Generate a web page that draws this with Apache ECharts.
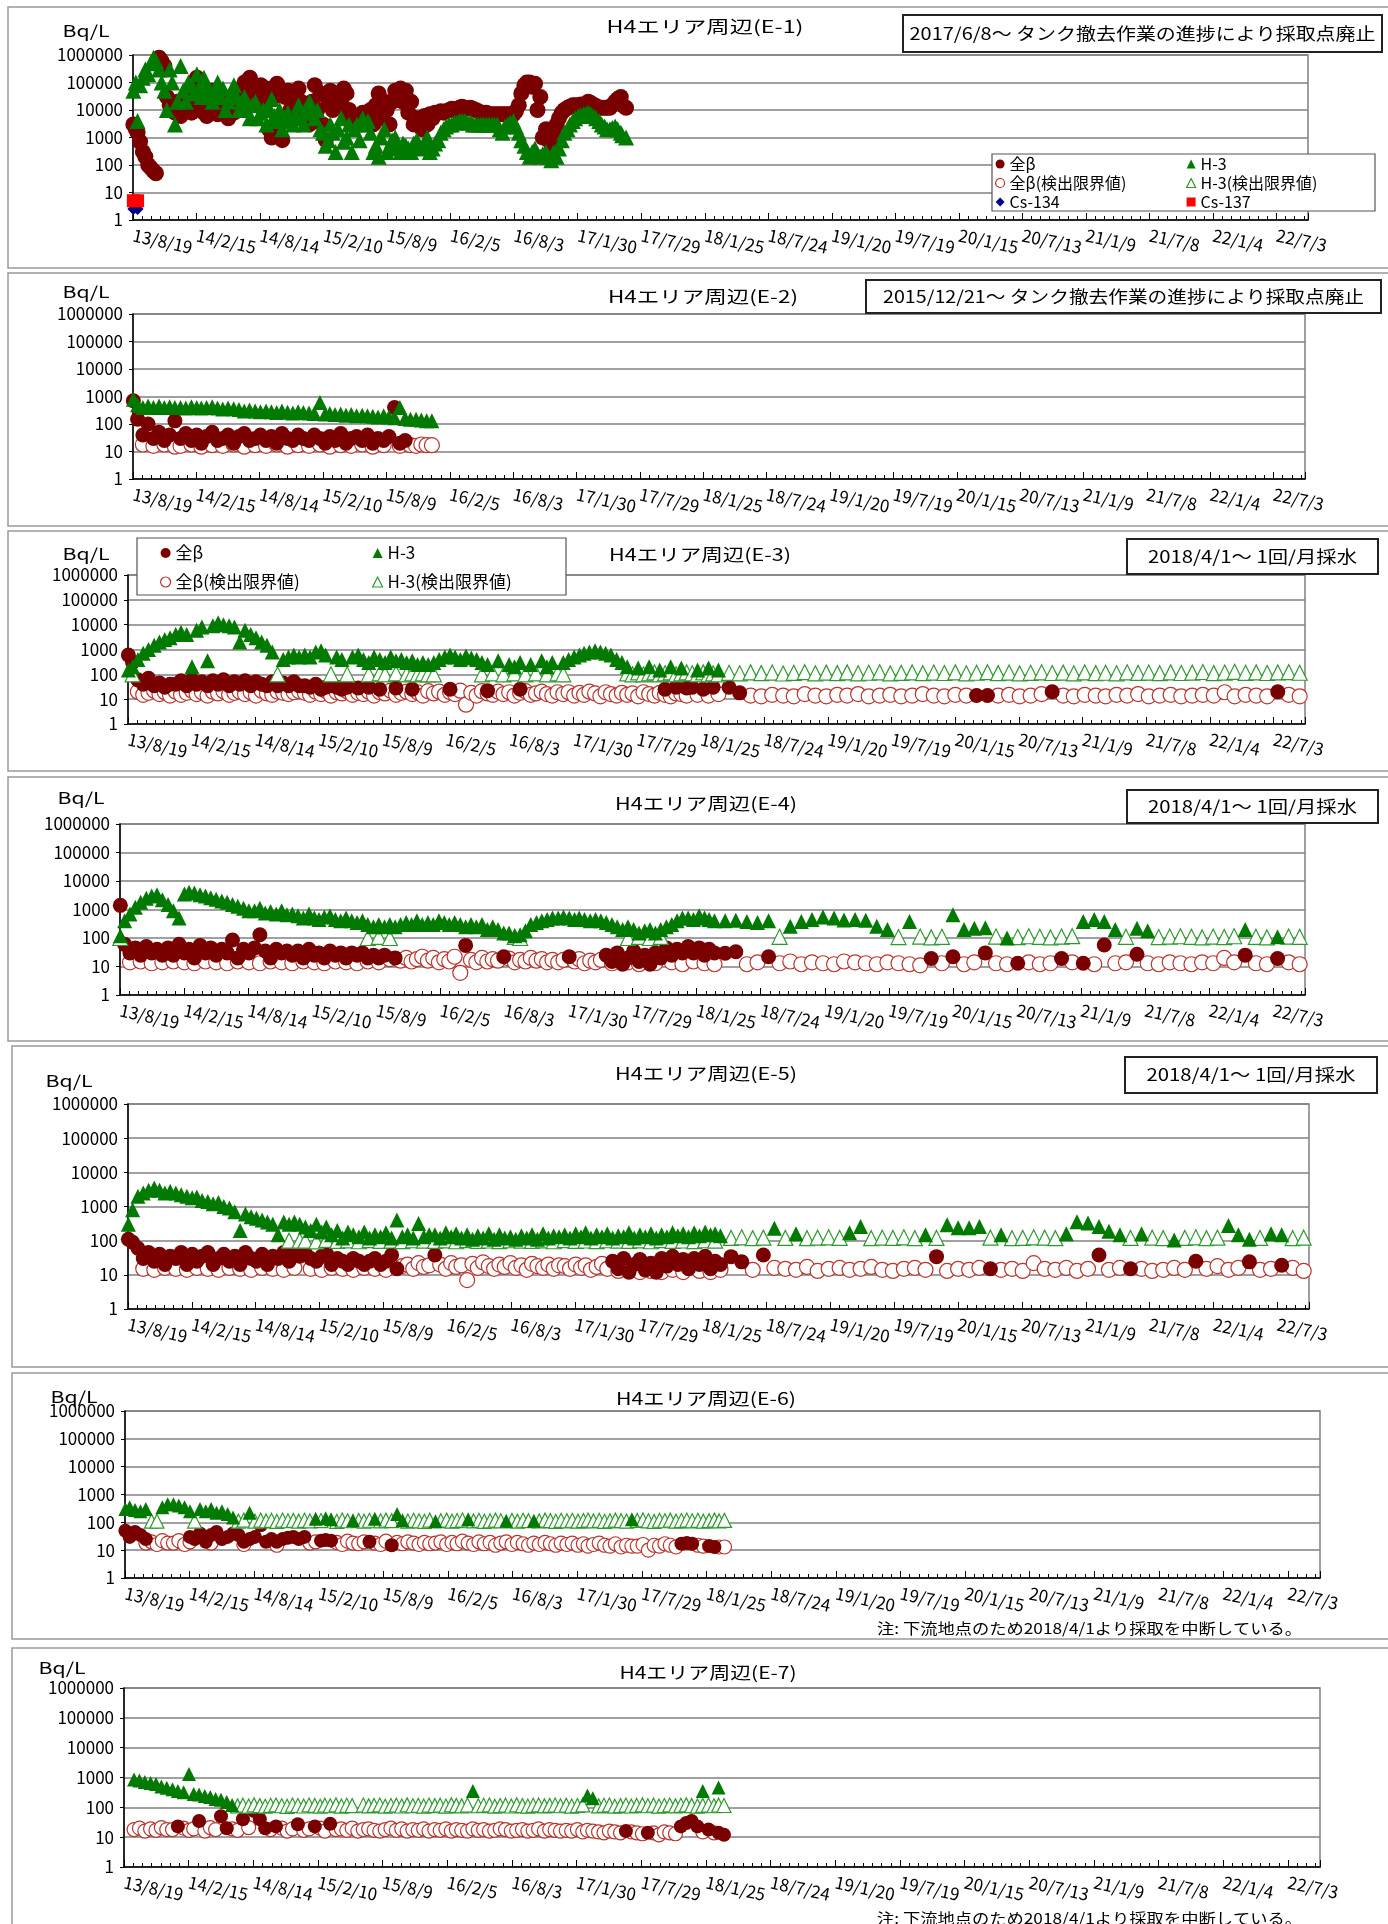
<!DOCTYPE html>
<html lang="ja">
<head>
<meta charset="utf-8">
<title>H4エリア周辺</title>
<script src="https://cdn.jsdelivr.net/npm/echarts@6.0.0/dist/echarts.min.js"></script>
<style>
html,body{margin:0;padding:0;background:#fff;}
#chart{width:1388px;height:1924px;}
</style>
</head>
<body>
<div id="chart"></div>
<script>
// ---------------- sample dates ----------------
const SEMI_MONTHLY_DATES = [
'13/08/20','13/09/01','13/09/16','13/10/01','13/10/16','13/11/01','13/11/16','13/12/01','13/12/16',
'14/01/01','14/01/16','14/02/01','14/02/16','14/03/01','14/03/16','14/04/01','14/04/16','14/05/01','14/05/16','14/06/01','14/06/16','14/07/01','14/07/16','14/08/01','14/08/16','14/09/01','14/09/16','14/10/01','14/10/16','14/11/01','14/11/16','14/12/01','14/12/16',
'15/01/01','15/01/16','15/02/01','15/02/16','15/03/01','15/03/16','15/04/01','15/04/16','15/05/01','15/05/16','15/06/01','15/06/16','15/07/01','15/07/16','15/08/01','15/08/16','15/09/01','15/09/16','15/10/01','15/10/16','15/11/01','15/11/16','15/12/01','15/12/16',
'16/01/01','16/01/16','16/02/01','16/02/16','16/03/01','16/03/16','16/04/01','16/04/16','16/05/01','16/05/16','16/06/01','16/06/16','16/07/01','16/07/16','16/08/01','16/08/16','16/09/01','16/09/16','16/10/01','16/10/16','16/11/01','16/11/16','16/12/01','16/12/16',
'17/01/01','17/01/16','17/02/01','17/02/16','17/03/01','17/03/16','17/04/01','17/04/16','17/05/01','17/05/16','17/06/01','17/06/16','17/07/01','17/07/16','17/08/01','17/08/16','17/09/01','17/09/16','17/10/01','17/10/16','17/11/01','17/11/16','17/12/01','17/12/16',
'18/01/01','18/01/16','18/02/01','18/02/16','18/03/01','18/03/16'
];
const MONTHLY_DATES = [
'18/04/15','18/05/15','18/06/15','18/07/15','18/08/15','18/09/15','18/10/15','18/11/15','18/12/15',
'19/01/15','19/02/15','19/03/15','19/04/15','19/05/15','19/06/15','19/07/15','19/08/15','19/09/15','19/10/15','19/11/15','19/12/15',
'20/01/15','20/02/15','20/03/15','20/04/15','20/05/15','20/06/15','20/07/15','20/08/15','20/09/15','20/10/15','20/11/15','20/12/15',
'21/01/15','21/02/15','21/03/15','21/04/15','21/05/15','21/06/15','21/07/15','21/08/15','21/09/15','21/10/15','21/11/15','21/12/15',
'22/01/15','22/02/15','22/03/15','22/04/15','22/05/15','22/06/15','22/07/15','22/08/15','22/09/15'
];
// extra E-1 sampling dates (E-1 was sampled much more often)
const E1_EXTRA_DATES = [
'13/08/27','13/09/08','13/09/23','13/10/08','13/10/23','13/11/08','13/11/23','13/12/08','13/12/23',
'14/01/08','14/01/23','14/02/08','14/02/23','14/03/08','14/03/23','14/04/08','14/04/23','14/05/08','14/05/23','14/06/08','14/06/23','14/07/08','14/07/23','14/08/08','14/08/23','14/09/08','14/09/23','14/10/08','14/10/23','14/11/08','14/11/23','14/12/08','14/12/23',
'15/01/08','15/01/23','15/02/08','15/02/23','15/03/08','15/03/23','15/04/08','15/04/23','15/05/08','15/05/23','15/06/08','15/06/23','15/07/08','15/07/23','15/08/08','15/08/23','15/09/08','15/09/23','15/10/08','15/10/23','15/11/08','15/11/23','15/12/08','15/12/23',
'16/01/08','16/01/23','16/02/08','16/02/23','16/03/08','16/03/23','16/04/08','16/04/23','16/05/08','16/05/23','16/06/08','16/06/23','16/07/08','16/07/23','16/08/08','16/08/23','16/09/08','16/09/23','16/10/08','16/10/23','16/11/08','16/11/23','16/12/08','16/12/23',
'17/01/08','17/01/23','17/02/08','17/02/23','17/03/08','17/03/23','17/04/08','17/04/23','17/05/08','17/05/23','17/06/05'
];
const X_TICK_LABELS = ['13/8/19','14/2/15','14/8/14','15/2/10','15/8/9','16/2/5','16/8/3','17/1/30','17/7/29','18/1/25','18/7/24','19/1/20','19/7/19','20/1/15','20/7/13','21/1/9','21/7/8','22/1/4','22/7/3'];
const Y_TICK_LABELS = ['1','10','100','1000','10000','100000','1000000'];

// ---------------- values (Bq/L), aligned with the dates above; 0 = no point in that series ----------------
// E-1
const E1_BETA = [
/*13*/ 3000,1500,300,100,60,800000,400000,15000,8000,
/*14*/ 6000,30000,8000,150000,10000,6000,50000,7000,20000,5000,8000,30000,100000,150000,30000,80000,60000,1000,90000,800,50000,20000,60000,8000,
/*15*/ 3000,80000,40000,800,50000,30000,20000,40000,5000,3000,8000,6000,3000,40000,20000,3000,50000,60000,50000,20000,5000,2000,3000,5000,
/*16*/ 8000,8000,10000,10000,12000,12000,12000,10000,8000,8000,7000,7000,7000,7000,7000,15000,80000,100000,90000,30000,2000,600,3000,8000,
/*17*/ 12000,15000,15000,15000,20000,15000,12000,12000,12000,20000,30000,12000
];
const E1_H3 = [
/*13*/ 50000,4000,150000,200000,800000,300000,50000,300000,3000,
/*14*/ 400000,20000,80000,200000,30000,80000,20000,100000,60000,20000,80000,10000,30000,5000,20000,8000,3000,25000,4000,2000,8000,3000,15000,3000,
/*15*/ 20000,5000,2000,500,3000,300,5000,1000,300,3000,5000,4000,300,200,2000,500,1000,300,500,300,800,400,1000,400,
/*16*/ 800,2000,3000,3500,4000,4000,3500,3000,3000,3000,3000,3000,1500,3000,4000,1500,500,200,400,200,300,150,200,800,
/*17*/ 2000,4000,6000,7000,8000,6000,4000,2500,2000,2500,1500,1000
];
const E1_BETA_EXTRA = [
/*13*/ 2000,700,200,80,50,600000,30000,10000,20000,
/*14*/ 15000,12000,60000,20000,8000,20000,12000,30000,10000,15000,40000,60000,50000,40000,60000,20000,2000,30000,3000,30000,10000,40000,20000,15000,
/*15*/ 20000,10000,3000,20000,10000,15000,60000,10000,4000,5000,4000,10000,15000,5000,10000,20000,30000,20000,8000,3000,4000,6000,7000,8000,
/*16*/ 9000,9000,11000,11000,13000,11000,11000,9000,8000,7000,7000,7000,7000,7000,9000,40000,100000,70000,10000,1000,800,1500,5000,10000,
/*17*/ 13000,15000,16000,17000,18000,14000,12000,12000,15000,25000,15000
];
const E1_H3_EXTRA = [
/*13*/ 100000,80000,300000,500000,600000,100000,10000,100000,20000,
/*14*/ 50000,100000,40000,60000,150000,40000,50000,30000,10000,40000,30000,20000,10000,15000,5000,10000,12000,6000,10000,5000,4000,6000,5000,8000,
/*15*/ 8000,10000,1500,800,1500,2000,700,3000,2000,800,3000,1500,500,1000,300,800,400,600,400,600,500,700,300,600,
/*16*/ 1500,2500,3000,3500,4000,3500,3000,3000,3000,3000,3000,2000,2500,3500,2500,800,300,300,250,250,200,300,400,1500,
/*17*/ 3000,5000,6500,7500,7000,5000,3000,2000,2200,2000,1200
];
const E1_CS134 = [2.5,2.5];
const E1_CS137 = [5,5];

// E-2
const E2_BETA = [
/*13*/ 700,150,40,100,30,50,25,40,130,
/*14*/ 30,45,25,40,20,35,50,25,30,40,20,35,45,25,30,40,25,35,20,45,30,25,40,30,
/*15*/ 25,40,30,20,35,25,45,20,30,35,25,40,20,30,25,35,400,20,25,0,0,0,0,0
];
const E2_BETA_ND = [
/*13*/ 0,0,18,0,16,0,18,0,15,
/*14*/ 16,0,18,0,15,0,17,0,16,0,18,0,15,0,17,0,16,0,18,0,15,0,17,0,
/*15*/ 16,0,18,0,15,0,17,0,16,0,18,0,15,0,17,0,0,16,0,17,16,18,17,17
];
const E2_H3 = [
/*13*/ 800,500,400,450,400,450,400,420,400,
/*14*/ 400,380,420,400,380,400,420,380,350,380,360,340,300,320,300,280,300,280,260,300,270,250,280,260,
/*15*/ 250,240,600,230,240,220,230,210,220,200,210,200,190,180,200,180,170,400,160,150,150,140,130,130
];

// E-3
const E3_BETA = [
/*13*/ 600,300,60,40,70,35,45,30,40,
/*14*/ 40,55,35,60,40,50,35,55,40,60,35,50,40,55,35,50,40,35,50,35,45,35,50,35,
/*15*/ 35,30,40,25,30,35,30,25,30,0,28,0,30,0,25,0,0,28,0,0,25,0,0,0,
/*16*/ 0,0,0,25,0,0,0,0,0,0,22,0,0,0,0,0,25,0,0,0,0,0,0,0,
/*17*/ 0,0,0,0,0,0,0,0,0,0,0,0,0,0,0,0,0,0,0,25,0,30,0,28,
/*18*/ 30,0,25,0,30,0,
/*m18*/ 30,18,0,0,0,0,0,0,0,
/*m19*/ 0,0,0,0,0,0,0,0,0,0,0,0,
/*m20*/ 0,0,14,14,0,0,0,0,0,20,0,0,
/*m21*/ 0,0,0,0,0,0,0,0,0,0,0,0,
/*m22*/ 0,0,0,0,0,0,20,0,0
];
const E3_BETA_ND = [
/*13*/ 0,0,20,15,18,22,16,19,14,
/*14*/ 20,15,18,22,16,19,14,20,17,21,15,18,20,16,19,14,22,17,15,20,18,16,19,21,
/*15*/ 18,15,20,16,22,14,19,17,21,15,18,16,20,14,19,17,22,15,18,20,16,19,14,21,
/*16*/ 17,20,15,19,16,22,6,18,14,21,17,15,20,16,19,14,18,21,15,17,20,16,14,19,
/*17*/ 16,19,14,18,15,20,17,13,19,16,14,18,15,17,13,19,16,14,18,15,13,17,16,14,
/*18*/ 0,15,0,14,0,16,
/*m18*/ 0,0,14,13,15,14,13,16,14,
/*m19*/ 13,15,14,16,13,14,15,13,14,16,14,13,
/*m20*/ 15,14,0,0,14,15,13,14,16,0,14,13,
/*m21*/ 15,14,13,15,14,16,13,14,15,13,14,15,
/*m22*/ 14,19,13,15,14,13,0,15,13
];
const E3_H3 = [
/*13*/ 150,200,400,700,1000,1500,2000,2500,3000,
/*14*/ 4000,5000,4000,200,6000,8000,350,9000,12000,10000,9000,8000,2000,6000,4000,3000,2000,1500,800,0,400,500,600,500,
/*15*/ 600,500,800,900,600,0,500,400,0,500,600,400,300,500,400,300,500,350,400,300,350,250,300,250,
/*16*/ 300,400,500,600,500,400,550,450,400,300,250,0,350,0,250,200,300,0,250,0,350,200,300,0,
/*17*/ 300,400,500,600,700,800,900,800,700,600,400,300,200,0,180,0,200,0,150,0,200,0,180,0,
/*18*/ 0,150,0,180,0,150
];
const E3_H3_ND = [
/*13*/ 0,100,0,0,0,0,0,0,0,
/*14*/ 0,0,0,0,0,0,0,0,0,0,0,0,0,0,0,0,0,0,0,100,0,0,0,0,
/*15*/ 0,0,0,0,0,100,0,0,100,0,0,0,100,0,110,100,0,110,0,100,110,100,110,100,
/*16*/ 100,0,0,0,0,0,0,0,0,100,0,110,0,100,0,110,0,100,0,110,0,100,0,110,
/*17*/ 100,0,0,0,0,0,0,0,0,0,0,0,110,100,120,100,110,120,100,110,120,100,110,120,
/*18*/ 110,100,120,100,110,100,
/*m18*/ 115,110,120,112,118,108,115,122,110,
/*m19*/ 117,112,120,110,116,121,109,114,119,111,118,113,
/*m20*/ 120,110,116,122,112,118,109,115,121,113,117,110,
/*m21*/ 119,112,116,110,121,114,118,111,120,113,117,124,
/*m22*/ 112,118,126,115,120,113,119,122,116
];

// E-4
const E4_BETA = [
/*13*/ 1400,60,30,45,25,50,30,40,25,
/*14*/ 45,25,60,30,40,20,55,30,45,25,40,30,85,20,40,30,45,130,35,20,40,30,35,25,
/*15*/ 35,20,40,25,30,20,35,25,30,20,30,25,30,20,25,20,25,0,20,0,0,0,0,0,
/*16*/ 0,0,0,0,0,0,0,55,0,0,0,0,0,0,22,0,0,0,0,0,0,0,0,0,
/*17*/ 0,0,22,0,0,0,0,0,0,25,15,30,12,20,35,15,25,12,30,20,45,25,40,30,
/*18*/ 50,30,45,25,40,30,
/*m18*/ 29,33,0,0,22,0,0,0,0,
/*m19*/ 0,0,0,0,0,0,0,0,0,0,19,0,
/*m20*/ 22,0,0,30,0,0,13,0,0,0,19,0,
/*m21*/ 13,0,57,0,0,27,0,0,0,0,0,0,
/*m22*/ 0,0,0,25,0,0,19,0,0
];
const E4_BETA_ND = [
/*13*/ 0,0,14,0,15,0,13,0,14,
/*14*/ 0,15,0,14,0,13,0,15,0,14,0,13,0,15,0,14,0,13,0,15,0,14,0,13,
/*15*/ 0,15,0,14,0,13,0,15,0,14,0,13,0,15,0,14,0,18,0,16,20,15,18,22,
/*16*/ 16,20,14,18,15,22,6,0,17,14,20,15,18,16,0,19,14,17,15,20,16,18,14,17,
/*17*/ 14,17,0,15,18,13,16,14,17,0,13,0,0,14,0,12,0,0,13,0,0,14,0,12,
/*18*/ 0,15,0,13,0,12,
/*m18*/ 0,0,12,14,0,13,15,12,14,
/*m19*/ 13,12,15,14,13,12,14,13,12,11,0,13,
/*m20*/ 0,12,14,0,13,12,0,14,12,13,0,14,
/*m21*/ 0,12,0,13,14,0,13,12,14,13,12,14,
/*m22*/ 13,20,14,0,13,12,0,14,12
];
const E4_H3 = [
/*13*/ 120,400,700,1200,1800,2500,3000,3300,2200,
/*14*/ 1500,900,500,3500,4000,3800,3300,3000,2600,2300,2000,1800,1500,1300,1100,900,900,1100,750,850,700,900,650,700,
/*15*/ 600,500,700,500,450,550,600,450,400,500,400,350,400,300,250,300,250,300,250,300,350,300,400,300,
/*16*/ 350,300,400,350,300,350,300,250,300,250,300,200,250,200,150,150,120,130,180,300,350,400,450,500,
/*17*/ 500,550,500,450,500,450,400,450,400,350,300,250,200,250,200,150,180,200,150,200,250,300,400,500,
/*18*/ 500,450,600,500,450,400,
/*m18*/ 400,420,380,350,400,0,260,380,450,
/*m19*/ 550,500,430,450,420,260,200,0,380,0,0,0,
/*m20*/ 650,200,220,230,0,100,0,0,0,0,0,0,
/*m21*/ 380,450,380,200,0,220,180,0,0,0,0,0,
/*m22*/ 0,0,0,200,0,0,110,0,0
];
const E4_H3_ND = [
/*13*/ 100,0,0,0,0,0,0,0,0,
/*14*/ 0,0,0,0,0,0,0,0,0,0,0,0,0,0,0,0,0,0,0,0,0,0,0,0,
/*15*/ 0,0,0,0,0,0,0,0,0,0,0,0,0,100,0,110,0,100,0,0,0,0,0,0,
/*16*/ 0,0,0,0,0,0,0,0,0,0,0,0,0,0,0,0,110,100,0,0,0,0,0,0,
/*17*/ 0,0,0,0,0,0,0,0,0,0,0,0,0,100,0,110,0,100,0,110,0,0,0,0,
/*18*/ 0,0,0,0,0,0,
/*m18*/ 0,0,0,0,0,110,0,0,0,
/*m19*/ 0,0,0,0,0,0,0,108,0,112,105,110,
/*m20*/ 0,0,0,0,112,0,108,115,110,105,112,116,
/*m21*/ 0,0,0,0,110,0,0,108,112,115,110,105,
/*m22*/ 112,108,115,0,110,105,0,112,110
];

// E-5
const E5_BETA = [
/*13*/ 110,90,60,30,45,25,40,20,35,
/*14*/ 30,45,20,40,25,35,45,20,30,40,25,35,20,45,30,25,40,20,35,30,45,25,40,35,
/*15*/ 42,30,25,35,42,20,30,25,20,30,25,20,25,30,20,25,38,15,0,0,0,0,0,0,
/*16*/ 38,0,0,0,0,0,0,0,0,0,0,0,0,0,0,0,0,0,0,0,0,0,0,0,
/*17*/ 0,0,0,0,0,0,0,0,0,25,15,30,12,20,28,14,22,12,30,18,35,20,28,15,
/*18*/ 30,20,35,15,25,20,
/*m18*/ 34,24,0,38,0,0,0,0,0,
/*m19*/ 0,0,0,0,0,0,0,0,0,0,34,0,
/*m20*/ 0,0,0,15,0,0,0,0,0,0,0,0,
/*m21*/ 0,38,0,0,15,0,0,0,0,0,25,0,
/*m22*/ 0,0,0,24,0,0,19,0,0
];
const E5_BETA_ND = [
/*13*/ 0,0,0,15,0,14,0,16,0,
/*14*/ 15,0,14,0,16,0,15,0,14,0,16,0,15,0,14,0,16,0,15,0,14,0,16,0,
/*15*/ 0,15,0,14,0,16,0,15,0,14,0,16,0,15,0,14,0,0,18,20,15,22,17,19,
/*16*/ 0,20,15,22,17,19,7,21,16,23,18,15,20,17,22,16,19,14,21,18,16,20,15,19,
/*17*/ 18,15,20,16,19,14,17,21,15,0,13,0,14,0,12,0,13,0,12,0,14,0,12,0,
/*18*/ 0,13,0,12,0,14,
/*m18*/ 0,0,14,0,16,15,14,17,13,
/*m19*/ 15,16,14,15,17,14,13,15,16,14,0,13,
/*m20*/ 15,14,16,0,14,15,13,22,15,14,16,13,
/*m21*/ 15,0,14,16,0,15,13,14,16,14,0,15,
/*m22*/ 18,14,16,0,14,15,0,16,13
];
const E5_H3 = [
/*13*/ 300,800,2000,2500,3000,3500,3000,2500,2800,
/*14*/ 2500,2200,2000,1800,1900,1500,1400,1200,1300,1000,900,700,200,600,500,450,400,350,300,150,350,300,350,300,
/*15*/ 250,200,300,180,250,150,200,120,180,150,130,180,120,150,130,170,120,400,130,150,120,320,130,150,
/*16*/ 150,120,170,130,160,120,150,110,140,120,160,110,150,120,130,110,140,120,150,110,160,120,140,130,
/*17*/ 150,120,160,130,170,120,150,130,160,120,140,130,170,120,150,130,160,120,150,130,170,140,160,130,
/*18*/ 170,140,180,150,160,140,
/*m18*/ 0,0,0,0,230,0,160,0,0,
/*m19*/ 0,0,170,260,0,0,0,0,0,150,0,290,
/*m20*/ 240,240,260,0,150,0,0,0,0,0,160,360,
/*m21*/ 330,260,190,150,0,160,0,0,105,0,0,0,
/*m22*/ 0,280,150,110,0,160,150,0,0
];
const E5_H3_ND = [
/*13*/ 0,0,0,0,0,0,0,0,0,
/*14*/ 0,0,0,0,0,0,0,0,0,0,0,0,0,0,0,0,0,0,0,0,0,100,0,100,
/*15*/ 100,0,95,0,105,0,98,0,102,0,96,0,104,0,99,0,101,0,97,0,103,0,100,0,
/*16*/ 98,0,102,0,96,0,104,0,99,0,101,0,97,0,103,0,100,0,98,0,102,0,96,0,
/*17*/ 104,0,99,0,101,0,97,0,103,0,100,0,98,0,102,0,96,0,104,0,99,0,101,0,
/*18*/ 97,0,103,0,100,0,
/*m18*/ 120,125,118,122,0,120,0,118,122,
/*m19*/ 125,120,0,0,118,122,120,125,118,0,120,0,
/*m20*/ 0,0,0,122,0,118,120,125,122,118,0,0,
/*m21*/ 0,0,0,0,120,0,122,118,0,120,125,118,
/*m22*/ 122,0,0,0,120,0,0,118,122
];

// E-6
const E6_BETA = [
/*13*/ 50,30,45,35,25,0,0,0,0,
/*14*/ 0,0,0,30,25,40,20,35,45,25,30,40,35,20,25,30,78,20,25,20,25,28,30,25,
/*15*/ 30,0,0,22,23,22,0,0,0,0,0,0,20,0,0,0,15,0,0,0,0,0,0,0,
/*16*/ 0,0,0,0,0,0,0,0,0,0,0,0,0,0,0,0,0,0,0,0,0,0,0,0,
/*17*/ 0,0,0,0,0,0,0,0,0,0,0,0,0,0,0,0,0,0,0,0,0,17,18,17,
/*18*/ 0,0,14,13,0,0
];
const E6_BETA_ND = [
/*13*/ 0,0,0,0,18,20,16,22,18,
/*14*/ 18,22,16,20,0,0,0,18,0,0,0,0,0,16,0,0,0,0,0,15,0,0,0,0,
/*15*/ 0,18,20,0,0,0,19,16,21,18,17,20,0,18,16,21,0,19,17,20,18,16,19,17,
/*16*/ 18,20,16,19,17,21,18,16,20,17,19,15,18,20,16,19,17,15,18,16,19,17,15,18,
/*17*/ 16,18,15,17,14,16,18,15,14,17,13,15,14,14,16,10,15,14,17,15,13,0,0,0,
/*18*/ 15,14,0,0,13,13
];
const E6_H3 = [
/*13*/ 300,350,280,250,300,0,0,350,450,
/*14*/ 450,400,350,250,0,300,250,300,220,250,200,150,0,0,220,0,0,0,0,0,0,0,0,0,
/*15*/ 0,0,135,0,140,130,0,0,0,120,0,0,0,135,0,0,0,200,120,0,0,0,0,0,
/*16*/ 110,0,0,0,0,0,130,0,0,0,0,0,0,115,0,0,0,0,115,0,0,0,0,0,
/*17*/ 0,0,0,0,0,0,0,0,0,0,0,0,130,0,0,0,0,0,0,0,0,0,0,0,
/*18*/ 0,0,0,0,0,0
];
const E6_H3_ND = [
/*13*/ 0,0,0,0,0,110,110,0,0,
/*14*/ 0,0,0,0,110,0,0,0,0,0,0,0,110,120,0,110,120,112,118,108,121,114,117,110,
/*15*/ 118,112,0,116,0,0,109,121,114,0,117,110,119,0,113,120,115,0,0,111,118,114,109,120,
/*16*/ 0,115,120,110,116,121,0,112,118,109,114,120,113,0,117,110,119,115,0,112,120,116,109,118,
/*17*/ 113,119,110,116,121,112,118,109,114,120,115,111,0,117,122,113,108,119,114,120,110,116,121,113,
/*18*/ 118,110,115,120,112,117
];

// E-7
const E7_BETA = [
/*13*/ 0,0,0,0,0,0,0,0,0,
/*14*/ 0,23,0,0,0,35,0,0,0,50,20,0,0,40,0,75,40,20,0,23,0,0,0,27,
/*15*/ 0,0,23,0,0,28,0,0,0,0,0,0,0,0,0,0,0,0,0,0,0,0,0,0,
/*16*/ 0,0,0,0,0,0,0,0,0,0,0,0,0,0,0,0,0,0,0,0,0,0,0,0,
/*17*/ 0,0,0,0,0,0,0,0,0,0,0,16,0,0,0,14,0,0,0,0,0,23,30,35,
/*18*/ 23,0,18,0,14,12
];
const E7_BETA_ND = [
/*13*/ 0,0,18,20,16,19,17,21,18,
/*14*/ 18,0,20,17,19,0,16,21,18,0,0,19,17,0,21,0,0,0,18,0,20,16,19,0,
/*15*/ 17,19,0,20,16,0,18,19,17,20,16,18,19,17,16,18,20,17,19,16,18,17,19,16,
/*16*/ 18,17,19,16,18,17,16,19,17,18,16,17,19,18,16,17,18,16,17,19,16,18,17,16,
/*17*/ 17,16,18,15,17,16,15,14,16,15,14,0,15,14,13,0,14,12,15,14,13,0,0,0,
/*18*/ 0,15,0,14,0,0
];
const E7_H3 = [
/*13*/ 0,0,850,800,700,650,600,500,450,
/*14*/ 400,350,320,1300,280,270,240,220,190,180,150,120,0,0,0,0,0,0,0,0,0,0,0,0,
/*15*/ 0,0,0,0,0,0,0,0,0,0,0,0,0,0,0,0,0,0,0,0,0,0,0,0,
/*16*/ 0,0,0,0,0,0,0,350,0,0,0,0,0,0,0,0,0,0,0,0,0,0,0,0,
/*17*/ 0,0,0,0,250,200,0,0,0,0,0,0,0,0,0,0,0,0,0,0,0,0,0,0,
/*18*/ 0,350,0,0,460,0
];
const E7_H3_ND = [
/*13*/ 0,0,0,0,0,0,0,0,0,
/*14*/ 0,0,0,0,0,0,0,0,0,0,0,0,112,118,110,121,114,109,117,120,113,108,119,115,
/*15*/ 111,120,116,109,118,113,121,110,117,114,0,119,112,116,120,109,115,118,111,121,113,117,110,119,
/*16*/ 114,118,110,121,116,112,119,0,113,117,120,109,115,118,111,121,114,110,117,120,112,116,119,113,
/*17*/ 118,110,115,121,0,0,112,117,120,109,114,119,111,116,121,113,118,110,115,120,112,117,121,114,
/*18*/ 110,116,119,113,118,115
];

// ---------------- helpers ----------------
const FONT = '"Noto Sans CJK JP","Noto Sans",sans-serif';
const BASE = Date.UTC(2013, 7, 19);
function dayOf(s) {
  const p = s.split('/').map(Number);
  return Math.round((Date.UTC(2000 + p[0], p[1] - 1, p[2]) - BASE) / 86400000);
}
const X_MAX = dayOf('22/09/30');
const DAYS = SEMI_MONTHLY_DATES.concat(MONTHLY_DATES).map(dayOf);
const EXTRA_DAYS = E1_EXTRA_DATES.map(dayOf);
function points(values, days) {
  const d = days || DAYS;
  const out = [];
  values.forEach(function (v, i) { if (v > 0) out.push([d[i], v]); });
  return out;
}

const KIND = {
  betaND: { name: '全β(検出限界値)', symbol: 'circle', itemStyle: { color: '#fff', borderColor: '#b8352f', borderWidth: 1.2, opacity: 1 } },
  beta:   { name: '全β', symbol: 'circle', itemStyle: { color: '#7a0000', opacity: 1 } },
  h3ND:   { name: 'H-3(検出限界値)', symbol: 'triangle', itemStyle: { color: '#fff', borderColor: '#2e9a2e', borderWidth: 1.2, opacity: 1 } },
  h3:     { name: 'H-3', symbol: 'triangle', itemStyle: { color: '#007a00', opacity: 1 } },
  cs134:  { name: 'Cs-134', symbol: 'diamond', itemStyle: { color: '#000080', opacity: 1 } },
  cs137:  { name: 'Cs-137', symbol: 'rect', itemStyle: { color: '#ff0000', opacity: 1 } }
};

const PANELS = [
  { title: 'H4エリア周辺(E-1)', box: [8, 7, 261], grid: { left: 133, top: 55, width: 1175, height: 165 }, unit: [86, 31], titleXY: [705, 27], titleW: 197, size: 16,
    series: [['beta', E1_BETA], ['beta', E1_BETA_EXTRA, EXTRA_DAYS], ['h3', E1_H3], ['h3', E1_H3_EXTRA, EXTRA_DAYS], ['cs134', E1_CS134], ['cs137', E1_CS137]],
    note: { rect: [903, 15, 479, 37], text: '2017/6/8～ タンク撤去作業の進捗により採取点廃止', w: 466 } },
  { title: 'H4エリア周辺(E-2)', box: [8, 273, 253], grid: { left: 133, top: 314, width: 1172, height: 165 }, unit: [86, 292], titleXY: [703, 297], titleW: 190, size: 15,
    series: [['betaND', E2_BETA_ND], ['beta', E2_BETA], ['h3', E2_H3]],
    note: { rect: [866, 280, 515, 33], text: '2015/12/21～ タンク撤去作業の進捗により採取点廃止', w: 481 } },
  { title: 'H4エリア周辺(E-3)', box: [8, 531, 240], grid: { left: 128, top: 575, width: 1177, height: 149 }, unit: [86, 554], titleXY: [700, 555], titleW: 182, size: 15,
    series: [['betaND', E3_BETA_ND], ['beta', E3_BETA], ['h3ND', E3_H3_ND], ['h3', E3_H3]],
    note: { rect: [1127, 539, 251, 35], text: '2018/4/1～ 1回/月採水', w: 209 } },
  { title: 'H4エリア周辺(E-4)', box: [8, 777, 264], grid: { left: 120, top: 824, width: 1185, height: 171 }, unit: [81, 798], titleXY: [706, 804], titleW: 182, size: 15,
    series: [['betaND', E4_BETA_ND], ['beta', E4_BETA], ['h3ND', E4_H3_ND], ['h3', E4_H3]],
    note: { rect: [1127, 790, 251, 33], text: '2018/4/1～ 1回/月採水', w: 209 } },
  { title: 'H4エリア周辺(E-5)', box: [12, 1046, 321], grid: { left: 128, top: 1104, width: 1181, height: 205 }, unit: [69, 1081], titleXY: [706, 1074], titleW: 182, size: 15,
    series: [['betaND', E5_BETA_ND], ['beta', E5_BETA], ['h3ND', E5_H3_ND], ['h3', E5_H3]],
    note: { rect: [1125, 1057, 252, 36], text: '2018/4/1～ 1回/月採水', w: 209 } },
  { title: 'H4エリア周辺(E-6)', box: [12, 1373, 266], grid: { left: 125, top: 1411, width: 1195, height: 167 }, unit: [74, 1397], titleXY: [706, 1399], titleW: 180, size: 14,
    series: [['betaND', E6_BETA_ND], ['beta', E6_BETA], ['h3ND', E6_H3_ND], ['h3', E6_H3]],
    foot: [1302, 1628] },
  { title: 'H4エリア周辺(E-7)', box: [12, 1648, 290], grid: { left: 124, top: 1688, width: 1196, height: 179 }, unit: [62, 1668], titleXY: [708, 1673], titleW: 177, size: 14,
    series: [['betaND', E7_BETA_ND], ['beta', E7_BETA], ['h3ND', E7_H3_ND], ['h3', E7_H3]],
    foot: [1302, 1918] }
];
const FOOT_TEXT = '注: 下流地点のため2018/4/1より採取を中断している。';

const measureCtx = document.createElement('canvas').getContext('2d');
function fitScale(text, size, target) {
  measureCtx.font = size + 'px ' + FONT;
  const w = measureCtx.measureText(text).width;
  return w > 0 ? target / w : 1;
}
function textEl(x, y, text, size, align, target) {
  const el = { type: 'text', x: x, y: y, z: 50, silent: true,
    style: { text: text, font: size + 'px ' + FONT, fill: '#000', textAlign: align, textVerticalAlign: 'middle', align: align, verticalAlign: 'middle' } };
  if (target) el.scaleX = fitScale(text, size, target);
  return el;
}
function rectEl(r, stroke, lw, fill, z) {
  return { type: 'rect', z: z, silent: true, shape: { x: r[0], y: r[1], width: r[2], height: r[3] },
    style: { fill: fill, stroke: stroke, lineWidth: lw } };
}

// ---------------- build option ----------------
const grids = [], xAxes = [], yAxes = [], series = [], graphics = [];
PANELS.forEach(function (p, i) {
  grids.push(Object.assign({ show: true, borderColor: '#808080', borderWidth: 1.5, containLabel: false, outerBoundsMode: 'none' }, p.grid));
  xAxes.push({
    gridIndex: i, type: 'value', min: 0, max: X_MAX, interval: 180,
    axisLine: { lineStyle: { color: '#000', width: 1.5 } },
    axisTick: { inside: true, length: 7, lineStyle: { color: '#000', width: 1 } },
    minorTick: { show: true, splitNumber: 7, length: 4, lineStyle: { color: '#000', width: 1 } },
    splitLine: { show: false }, minorSplitLine: { show: false },
    axisLabel: { rotate: -12, margin: 15, fontSize: 17, color: '#000', fontFamily: FONT,
      formatter: function (v) { const k = v / 180; return (Number.isInteger(k) && X_TICK_LABELS[k] !== undefined) ? X_TICK_LABELS[k] : ''; } }
  });
  yAxes.push({
    gridIndex: i, type: 'log', logBase: 10, min: 1, max: 1000000, splitNumber: 6,
    axisLine: { show: true, lineStyle: { color: '#000', width: 1.5 } },
    axisTick: { show: true, length: 4, lineStyle: { color: '#000' } },
    splitLine: { show: true, lineStyle: { color: '#808080', width: 1.5 } },
    axisLabel: { fontSize: 17, color: '#000', margin: 10, fontFamily: FONT,
      formatter: function (v) { return Y_TICK_LABELS[Math.round(Math.log10(v))]; } }
  });
  p.series.forEach(function (s, j) {
    const k = KIND[s[0]];
    const sz = (s[0] === 'cs137') ? 13 : (s[0] === 'cs134' ? 12 : p.size);
    series.push({ type: 'scatter', name: k.name, xAxisIndex: i, yAxisIndex: i, symbol: k.symbol, symbolSize: sz,
      itemStyle: k.itemStyle, data: points(s[1], s[2]), silent: true, animation: false, z: 2 + j * 0.01,
      emphasis: { disabled: true } });
  });
  graphics.push(rectEl([p.box[0], p.box[1], 1400 - p.box[0], p.box[2]], '#9a9a9a', 1.5, 'none', 1));
  graphics.push(textEl(p.unit[0], p.unit[1], 'Bq/L', 16, 'center', 47));
  graphics.push(textEl(p.titleXY[0], p.titleXY[1], p.title, 17, 'center', p.titleW));
  if (p.note) {
    const r = p.note.rect;
    graphics.push(rectEl(r, '#222', 2, '#fff', 40));
    graphics.push(textEl(r[0] + r[2] / 2, r[1] + r[3] / 2, p.note.text, 17, 'center', p.note.w));
  }
  if (p.foot) graphics.push(textEl(p.foot[0], p.foot[1], FOOT_TEXT, 15, 'right', 425));
});
graphics.push(rectEl([992, 154, 383, 57], '#555', 1.2, '#fff', 40));
graphics.push(rectEl([137, 538, 429, 57], '#555', 1.2, '#fff', 40));

function legendItems(names) {
  return names.map(function (n) {
    const key = Object.keys(KIND).find(function (k) { return KIND[k].name === n; });
    const k = KIND[key];
    return { name: n, icon: k.symbol, itemStyle: k.itemStyle };
  });
}
function legendCol(names, left, top, gap, fs, w) {
  return { data: legendItems(names), orient: 'vertical', left: left, top: top, itemGap: gap, itemWidth: w, itemHeight: w,
    padding: 0, z: 60, selectedMode: false,
    textStyle: { fontSize: fs, lineHeight: 18, color: '#000', fontFamily: FONT } };
}

const option = {
  animation: false,
  backgroundColor: '#fff',
  grid: grids, xAxis: xAxes, yAxis: yAxes, series: series,
  legend: [
    legendCol(['全β', '全β(検出限界値)', 'Cs-134'], 995, 155, 1, 16, 9),
    legendCol(['H-3', 'H-3(検出限界値)', 'Cs-137'], 1186, 155, 1, 16, 9),
    legendCol(['全β', '全β(検出限界値)'], 160, 544, 11, 17, 10),
    legendCol(['H-3', 'H-3(検出限界値)'], 372, 544, 11, 17, 10)
  ],
  graphic: { elements: graphics }
};

const chart = echarts.init(document.getElementById('chart'), null, { renderer: 'canvas' });
chart.setOption(option);
</script>
</body>
</html>
